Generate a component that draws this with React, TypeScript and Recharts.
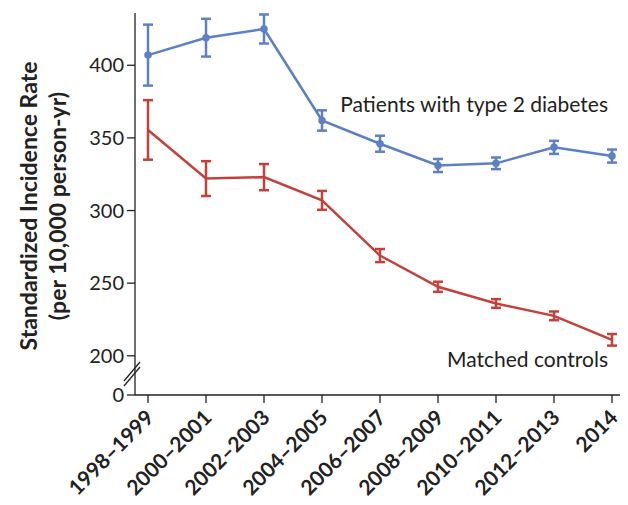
import React from "react"
import { LineChart, Line, XAxis, YAxis, ErrorBar, Customized } from "recharts"

const periods = [
  "1998–1999",
  "2000–2001",
  "2002–2003",
  "2004–2005",
  "2006–2007",
  "2008–2009",
  "2010–2011",
  "2012–2013",
  "2014",
]
const diabetesRate = [407, 419, 425, 362, 346, 331, 332.5, 343.5, 337.5]
const diabetesErr = [21, 13, 10, 7, 5.5, 4.5, 4, 4.5, 4.5]
const controlsRate = [355.5, 322, 323, 307, 269, 247.5, 236, 227.5, 211]
const controlsErr = [20.5, 12, 9, 6.5, 4.5, 3.5, 3, 3, 4]

// the "0" tick sits below the axis break, at the bottom of the domain
const yTicks = [173, 200, 250, 300, 350, 400]
const yTickLabels = ["0", "200", "250", "300", "350", "400"]

const data = periods.map((p, i) => ({
  period: p,
  diabetes: diabetesRate[i],
  diabetesErr: diabetesErr[i],
  controls: controlsRate[i],
  controlsErr: controlsErr[i],
}))

const BLUE = "#5b80c8"
const RED = "#c3413a"
const INK = "#222"
const FONT = "Lato, 'Open Sans', sans-serif"

const XTick = ({ x, y, payload }: any) => (
  <text
    x={x + 7}
    y={y + 14}
    transform={`rotate(-45, ${x + 7}, ${y + 14})`}
    textAnchor="end"
    fontSize={21}
    fontWeight={700}
    fill={INK}
    fontFamily={FONT}
  >
    {payload.value}
  </text>
)

const YTick = ({ x, y, payload }: any) => {
  const idx = yTicks.indexOf(payload.value)
  return (
    <g>
      <text x={x - 1} y={y + 7} textAnchor="end" fontSize={20} fill={INK} fontFamily={FONT}>
        {yTickLabels[idx]}
      </text>
      {idx === 0 && (
        <g stroke={INK} strokeWidth={1.3}>
          <line x1={x - 1} y1={y - 14} x2={x + 15} y2={y - 33} />
          <line x1={x - 1} y1={y - 9} x2={x + 15} y2={y - 28} />
        </g>
      )}
    </g>
  )
}

const Annotations = () => (
  <g fontFamily={FONT} fontSize={21} fill={INK}>
    <text x={608} y={112} textAnchor="end">Patients with type 2 diabetes</text>
    <text x={608} y={367} textAnchor="end">Matched controls</text>
    <g transform="rotate(-90)" fontWeight={700} textAnchor="middle" fontSize={23}>
      <text x={-206} y={37}>Standardized Incidence Rate</text>
      <text x={-206} y={66}>(per 10,000 person-yr)</text>
    </g>
  </g>
)

export default function App() {
  return (
    <div style={{ margin: -8, width: 628, height: 505, background: "#fff" }}>
      <LineChart width={628} height={505} data={data} margin={{ top: 13, right: 5, bottom: 0, left: 0 }}>
        <XAxis
          dataKey="period"
          interval={0}
          height={110}
          padding={{ left: 13, right: 11 }}
          tick={<XTick />}
          tickSize={8}
          stroke={INK}
          strokeWidth={1.3}
        />
        <YAxis
          type="number"
          domain={[173, 436]}
          ticks={yTicks}
          width={135}
          tick={<YTick />}
          tickSize={8}
          stroke={INK}
          strokeWidth={1.3}
          allowDataOverflow
        />
        <Line
          dataKey="diabetes"
          stroke={BLUE}
          strokeWidth={2.5}
          dot={{ r: 2.5, fill: BLUE, stroke: BLUE }}
          isAnimationActive={false}
        >
          <ErrorBar dataKey="diabetesErr" width={5} stroke={BLUE} strokeWidth={2.5} direction="y" />
        </Line>
        <Line
          dataKey="controls"
          stroke={RED}
          strokeWidth={2.5}
          dot={false}
          isAnimationActive={false}
        >
          <ErrorBar dataKey="controlsErr" width={5} stroke={RED} strokeWidth={2.5} direction="y" />
        </Line>
        <Customized component={Annotations} />
      </LineChart>
    </div>
  )
}
